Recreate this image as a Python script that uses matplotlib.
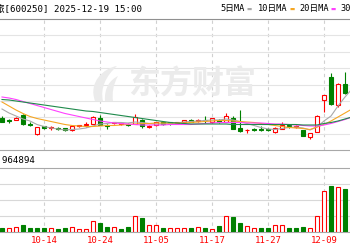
import matplotlib
matplotlib.use("Agg")
import matplotlib.pyplot as plt
from matplotlib.path import Path
from matplotlib.patches import PathPatch
import numpy as np

plt.rcParams["font.family"] = ["DejaVu Sans Mono", "Noto Sans CJK SC"]

# daily k-line data
dates = ["09-26", "09-29", "09-30", "10-09", "10-10", "10-13", "10-14", "10-15", "10-16", "10-17",
         "10-20", "10-21", "10-22", "10-23", "10-24", "10-27", "10-28", "10-29", "10-30", "10-31",
         "11-03", "11-04", "11-05", "11-06", "11-07", "11-10", "11-11", "11-12", "11-13", "11-14",
         "11-17", "11-18", "11-19", "11-20", "11-21", "11-24", "11-25", "11-26", "11-27", "11-28",
         "12-01", "12-02", "12-03", "12-04", "12-05", "12-08", "12-09", "12-10", "12-11", "12-12",
         "12-15"]

opens = [8.65, 8.61, 8.61, 8.70, 8.53, 8.31, 8.47, 8.44, 8.45, 8.43,
         8.39, 8.47, 8.50, 8.53, 8.63, 8.49, 8.54, 8.53, 8.52, 8.53,
         8.61, 8.46, 8.50, 8.55, 8.55, 8.54, 8.55, 8.61, 8.59, 8.61,
         8.57, 8.61, 8.57, 8.64, 8.44, 8.39, 8.43, 8.43, 8.42, 8.37,
         8.43, 8.49, 8.46, 8.40, 8.27, 8.37, 9.00, 9.46, 8.91, 9.31,
         9.16]
highs = [8.68, 8.62, 8.66, 8.72, 8.57, 8.46, 8.49, 8.48, 8.47, 8.44,
         8.48, 8.51, 8.57, 8.68, 8.70, 8.52, 8.57, 8.56, 8.55, 8.73,
         8.63, 8.50, 8.57, 8.57, 8.56, 8.57, 8.60, 8.63, 8.63, 8.69,
         8.64, 8.62, 8.74, 8.68, 8.80, 8.43, 8.44, 8.48, 8.44, 8.47,
         8.56, 8.51, 8.50, 8.41, 8.34, 8.70, 9.10, 9.55, 9.34, 9.57,
         9.28]
lows = [8.56, 8.54, 8.60, 8.50, 8.49, 8.30, 8.42, 8.40, 8.41, 8.38,
        8.38, 8.46, 8.46, 8.52, 8.50, 8.43, 8.52, 8.51, 8.48, 8.52,
        8.45, 8.44, 8.49, 8.50, 8.50, 8.52, 8.53, 8.56, 8.57, 8.55,
        8.55, 8.55, 8.56, 8.48, 8.36, 8.35, 8.38, 8.39, 8.39, 8.35,
        8.43, 8.45, 8.45, 8.28, 8.23, 8.36, 8.76, 8.90, 8.86, 9.12,
        9.12]
closes = [8.57, 8.58, 8.63, 8.52, 8.50, 8.46, 8.45, 8.46, 8.42, 8.39,
          8.47, 8.49, 8.52, 8.65, 8.51, 8.47, 8.55, 8.54, 8.51, 8.65,
          8.47, 8.48, 8.55, 8.53, 8.54, 8.55, 8.59, 8.57, 8.61, 8.60,
          8.63, 8.57, 8.69, 8.42, 8.38, 8.40, 8.41, 8.40, 8.39, 8.45,
          8.50, 8.48, 8.47, 8.29, 8.33, 8.69, 9.10, 8.92, 9.33, 9.14,
          9.26]

ma5 = [8.82, 8.74, 8.68, 8.62, 8.58, 8.51, 8.47, 8.44, 8.42, 8.40,
       8.41, 8.42, 8.44, 8.48, 8.52, 8.53, 8.55, 8.55, 8.54, 8.56,
       8.55, 8.53, 8.52, 8.52, 8.53, 8.54, 8.56, 8.57, 8.58, 8.59,
       8.60, 8.60, 8.62, 8.60, 8.57, 8.53, 8.49, 8.45, 8.42, 8.41,
       8.43, 8.45, 8.46, 8.44, 8.40, 8.46, 8.58, 8.68, 8.88, 9.06,
       9.22]
ma10 = [8.96, 8.88, 8.80, 8.73, 8.67, 8.63, 8.60, 8.57, 8.54, 8.51,
        8.49, 8.48, 8.47, 8.47, 8.48, 8.49, 8.49, 8.50, 8.51, 8.52,
        8.53, 8.53, 8.54, 8.54, 8.54, 8.54, 8.54, 8.55, 8.56, 8.57,
        8.58, 8.59, 8.59, 8.58, 8.57, 8.56, 8.55, 8.53, 8.51, 8.49,
        8.47, 8.45, 8.44, 8.43, 8.41, 8.46, 8.51, 8.58, 8.66, 8.74,
        8.82]
ma20 = [9.06, 9.04, 9.01, 8.97, 8.93, 8.89, 8.85, 8.81, 8.77, 8.73,
        8.70, 8.67, 8.64, 8.61, 8.58, 8.56, 8.54, 8.53, 8.52, 8.51,
        8.50, 8.50, 8.50, 8.50, 8.51, 8.51, 8.51, 8.51, 8.52, 8.53,
        8.54, 8.55, 8.55, 8.55, 8.55, 8.54, 8.54, 8.54, 8.53, 8.52,
        8.52, 8.51, 8.50, 8.49, 8.48, 8.48, 8.50, 8.53, 8.57, 8.61,
        8.66]
ma30 = [9.01, 9.00, 8.98, 8.96, 8.94, 8.92, 8.90, 8.88, 8.86, 8.84,
        8.82, 8.80, 8.78, 8.77, 8.75, 8.73, 8.71, 8.69, 8.67, 8.65,
        8.63, 8.61, 8.59, 8.57, 8.55, 8.54, 8.53, 8.52, 8.52, 8.52,
        8.52, 8.52, 8.52, 8.51, 8.51, 8.51, 8.51, 8.51, 8.51, 8.51,
        8.51, 8.51, 8.51, 8.50, 8.50, 8.50, 8.53, 8.55, 8.58, 8.62,
        8.66]

# volume in thousand lots, colour r = up on the day, g = down
volumes = [74, 86, 100, 140, 80, 80, 80, 80, 60, 80,
           94, 60, 60, 220, 186, 100, 100, 60, 100, 314,
           286, 140, 140, 80, 80, 86, 86, 74, 94, 74,
           54, 114, 326, 294, 186, 114, 74, 74, 74, 146,
           134, 74, 74, 106, 74, 326, 814, 914, 894, 854,
           606]
vol_dir = list("GRRGGGGRGG" "RRRRGGRGGR" "GRRGRRRGRG" "RGRGGRRGGR" "RGGGRRRGRG" "R")

tick_dates = ["10-14", "10-24", "11-05", "11-17", "11-27", "12-09"]
last_volume = "964894"

RED = "#ff0000"
GREEN = "#008000"
GRID = "#e4e4e4"
BORDER = "#a8a8a8"
MARK = "#ebebeb"

W, H = 350, 250


def fx(px):
    return px / W


def fy(py):
    return 1 - py / H


fig = plt.figure(figsize=(3.5, 2.5), dpi=100)
ax = fig.add_axes([0, fy(150), 1, fy(19) - fy(150)])
axv = fig.add_axes([0, fy(232), 1, fy(168) - fy(232)])

x = np.arange(len(dates))
tick_pos = [dates.index(d) for d in tick_dates]

for a in (ax, axv):
    a.set_xlim(-2 / 7, 348 / 7)
    for s in ("left", "right"):
        a.spines[s].set_visible(False)
    for s in ("top", "bottom"):
        a.spines[s].set_color(BORDER)
        a.spines[s].set_linewidth(0.8)
    a.set_yticks([])
    for p in tick_pos:
        a.axvline(p, color="#d0d0d0", lw=0.8, ls=(0, (3, 3)), zorder=0)

# price panel
ax.set_ylim(8.0, 10.62)
for g in np.linspace(8.0, 10.62, 9)[1:-1]:
    ax.axhline(g, color=GRID, lw=0.8, zorder=0)
ax.set_xticks([])
ax.spines["top"].set_color("#909090")

# watermark: logo swoosh + name
logo = Path([(fx(95), fy(101)), (fx(88), fy(82)), (fx(104), fy(68)), (fx(117), fy(66)),
             (fx(106), fy(76)), (fx(100), fy(88)), (fx(103), fy(101)), (fx(95), fy(101))],
            [Path.MOVETO, Path.CURVE4, Path.CURVE4, Path.CURVE4,
             Path.CURVE4, Path.CURVE4, Path.CURVE4, Path.CLOSEPOLY])
fig.patches.append(PathPatch(logo, transform=fig.transFigure, fc=MARK, ec="none", zorder=0))
logo2 = Path([(fx(105), fy(101)), (fx(104), fy(88)), (fx(110), fy(80)), (fx(118), fy(76)),
              (fx(113), fy(85)), (fx(112), fy(93)), (fx(113), fy(101)), (fx(105), fy(101))],
             [Path.MOVETO, Path.CURVE4, Path.CURVE4, Path.CURVE4,
              Path.CURVE4, Path.CURVE4, Path.CURVE4, Path.CLOSEPOLY])
fig.patches.append(PathPatch(logo2, transform=fig.transFigure, fc=MARK, ec="none", zorder=0))
fig.text(fx(192), fy(85), "东方财富", fontsize=23, fontweight="bold",
         color=MARK, ha="center", va="center", family="Noto Sans CJK SC", zorder=0)

o = np.array(opens)
c = np.array(closes)
up = c >= o
body_lo = np.minimum(o, c)
body_h = np.maximum(np.abs(c - o), 0.004)
cols = np.where(up, RED, GREEN)

ax.vlines(x, lows, highs, colors=cols, lw=0.8, zorder=2)
ax.bar(x, body_h, bottom=body_lo, width=0.68,
       color=np.where(up, "white", GREEN), edgecolor=cols, lw=0.8, zorder=3)

ax.plot(x, ma5, color="#a8a8a8", lw=0.8, zorder=4)
ax.plot(x, ma10, color="#f5a623", lw=0.8, zorder=4)
ax.plot(x, ma20, color="#ff40ff", lw=0.8, zorder=4)
ax.plot(x, ma30, color="#1f8a4c", lw=0.8, zorder=4)

# volume panel
axv.set_ylim(0, 1280)
for g in (320, 640, 960):
    axv.axhline(g, color="#d8d8d8", lw=0.8, zorder=0)
vcols = [RED if d == "R" else GREEN for d in vol_dir]
vface = ["white" if d == "R" else GREEN for d in vol_dir]
axv.bar(x, volumes, width=0.62, color=vface, edgecolor=vcols, lw=0.8, zorder=3)
axv.set_xticks(tick_pos)
axv.set_xticklabels(tick_dates)
axv.tick_params(axis="x", length=0, labelsize=6.5, labelcolor=RED, pad=3)

fig.text(fx(36), fy(160.5), "成交量:" + last_volume, fontsize=6.6, ha="right", va="center")

# header
fig.text(fx(142), fy(9), "南京商旅[600250] 2025-12-19 15:00", fontsize=6.6,
         ha="right", va="center")
legend = [("5日MA", 220, "#a8a8a8"), ("10日MA", 258, "#f5a623"),
          ("20日MA", 299, "#ff40ff"), ("30日MA", 340, "#1f8a4c")]
fig.canvas.draw()
for label, px, col in legend:
    t = fig.text(fx(px), fy(9), label, fontsize=6.2, ha="left", va="center")
    bb = t.get_window_extent(renderer=fig.canvas.get_renderer())
    fig.text(bb.x1 / W + fx(2), fy(9), "\u25ac", fontsize=4,
             color=col, ha="left", va="center", family="DejaVu Sans")

fig.savefig("out.png", dpi=100)
